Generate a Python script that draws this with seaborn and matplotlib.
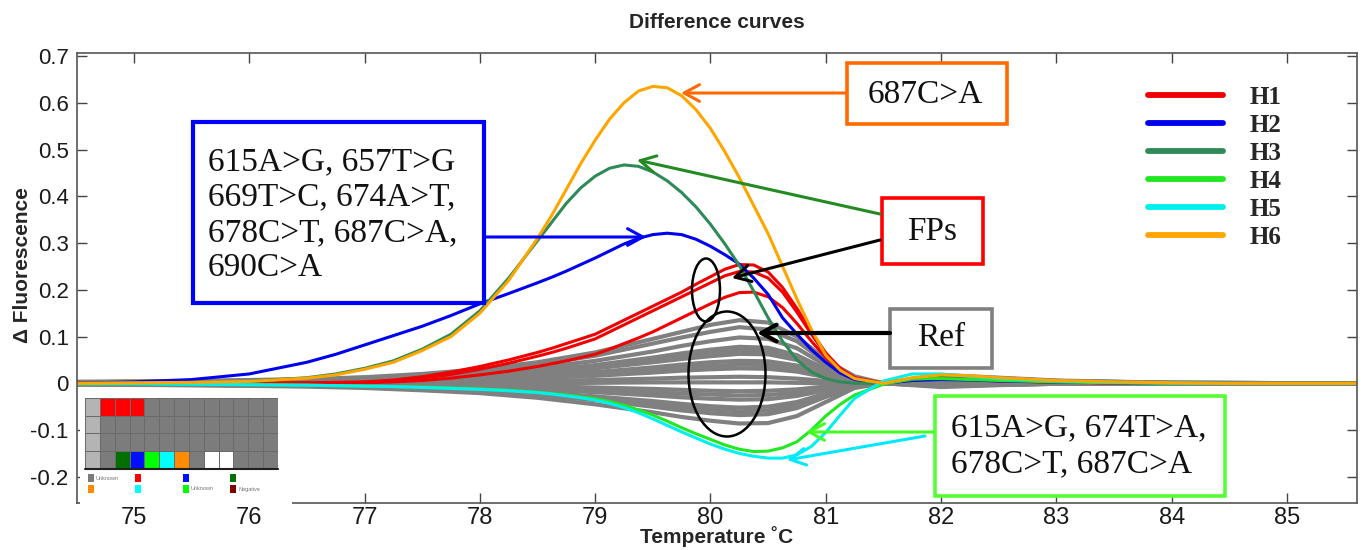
import numpy as np
import pandas as pd
import matplotlib
matplotlib.use("Agg")
import matplotlib.pyplot as plt
import seaborn as sns
from matplotlib.patches import Rectangle, Ellipse, FancyArrowPatch
from matplotlib.colors import ListedColormap
from matplotlib.lines import Line2D

nan = np.nan

# temperatures (deg C) at which the coloured curves were read
TEMP = [74.5, 75.0, 75.5, 76.0, 76.5, 76.75, 77.0, 77.25, 77.5, 77.75, 78.0, 78.25,
        78.5, 78.625, 78.75, 78.875, 79.0, 79.125, 79.25, 79.375, 79.5, 79.625, 79.75, 79.875,
        80.0, 80.125, 80.25, 80.375, 80.5, 80.625, 80.75, 80.875, 81.0, 81.125, 81.25,
        81.5, 81.75, 82.0, 82.25, 82.5, 83.0, 83.5, 84.0, 84.5, 85.0, 85.6]

H1_A = [0.0, 0.0, 0.0, 0.0, 0.001, 0.002, 0.003, 0.007, 0.014, 0.024, 0.036, 0.05,
        0.066, 0.075, 0.085, 0.095, 0.105, 0.12, 0.135, 0.15, 0.165, 0.18, 0.195, 0.212,
        0.228, 0.244, 0.254, 0.253, 0.238, 0.205, 0.16, 0.11, 0.065, 0.032, 0.012,
        0.0, 0.01, 0.012, 0.01, 0.007, 0.003, 0.001, 0.0, 0.0, 0.0, 0.0]
H1_B = [0.0, 0.0, 0.0, 0.0, 0.001, 0.001, 0.002, 0.005, 0.011, 0.019, 0.03, 0.043,
        0.058, 0.066, 0.075, 0.085, 0.095, 0.11, 0.125, 0.14, 0.155, 0.17, 0.185, 0.2,
        0.215, 0.23, 0.239, 0.238, 0.225, 0.195, 0.152, 0.105, 0.062, 0.03, 0.011,
        0.0, 0.009, 0.011, 0.009, 0.006, 0.003, 0.001, 0.0, 0.0, 0.0, 0.0]
H1_C = [0.0, 0.0, 0.0, 0.0, 0.0, 0.001, 0.001, 0.003, 0.006, 0.011, 0.018, 0.026,
        0.036, 0.042, 0.048, 0.055, 0.062, 0.073, 0.085, 0.097, 0.11, 0.125, 0.14, 0.155,
        0.17, 0.184, 0.194, 0.195, 0.185, 0.162, 0.128, 0.09, 0.055, 0.027, 0.01,
        0.0, 0.008, 0.01, 0.008, 0.005, 0.002, 0.001, 0.0, 0.0, 0.0, 0.0]
H2 = [0.0, 0.003, 0.008, 0.02, 0.045, 0.062, 0.082, 0.102, 0.122, 0.145, 0.17, 0.192,
      0.215, 0.227, 0.24, 0.254, 0.268, 0.283, 0.298, 0.31, 0.318, 0.321, 0.318, 0.308,
      0.293, 0.275, 0.255, 0.225, 0.19, 0.14, 0.105, 0.072, 0.045, 0.022, 0.008,
      0.0, 0.006, 0.008, 0.007, 0.005, 0.003, 0.001, 0.0, 0.0, nan, nan]
H3 = [0.0, 0.001, 0.002, 0.004, 0.012, 0.02, 0.032, 0.048, 0.073, 0.105, 0.155, 0.225,
      0.305, 0.345, 0.385, 0.418, 0.443, 0.46, 0.467, 0.464, 0.452, 0.433, 0.408, 0.377,
      0.34, 0.298, 0.252, 0.197, 0.14, 0.09, 0.05, 0.024, 0.01, 0.003, 0.0,
      0.0, 0.008, 0.012, 0.01, 0.008, 0.004, 0.002, 0.0, 0.0, 0.0, 0.0]
H4 = [-0.001, -0.001, -0.002, -0.003, -0.004, -0.005, -0.006, -0.007, -0.008, -0.01, -0.012, -0.015,
      -0.019, -0.022, -0.025, -0.029, -0.033, -0.039, -0.047, -0.057, -0.068, -0.081, -0.095, -0.108,
      -0.12, -0.132, -0.141, -0.146, -0.145, -0.138, -0.125, -0.1, -0.07, -0.045, -0.025,
      -0.002, 0.01, 0.01, 0.008, 0.006, 0.003, 0.001, 0.0, 0.0, 0.0, 0.0]
H5 = [-0.001, -0.001, -0.002, -0.003, -0.004, -0.005, -0.006, -0.007, -0.009, -0.011, -0.013, -0.016,
      -0.02, -0.023, -0.027, -0.031, -0.036, -0.043, -0.052, -0.063, -0.076, -0.09, -0.104, -0.117,
      -0.13, -0.141, -0.15, -0.156, -0.16, -0.16, -0.153, -0.135, -0.105, -0.068, -0.032,
      0.005, 0.02, 0.02, 0.015, 0.01, 0.005, 0.002, 0.001, 0.0, 0.0, 0.0]
H6 = [0.0, 0.001, 0.002, 0.004, 0.011, 0.018, 0.03, 0.045, 0.07, 0.10, 0.15, 0.22,
      0.31, 0.36, 0.415, 0.47, 0.52, 0.565, 0.60, 0.625, 0.635, 0.632, 0.615, 0.585,
      0.545, 0.495, 0.44, 0.38, 0.32, 0.25, 0.18, 0.115, 0.06, 0.028, 0.01,
      0.0, 0.012, 0.018, 0.016, 0.012, 0.006, 0.003, 0.001, 0.0, 0.0, 0.0]

# reference (wild type) curves, grey
REF_TEMP = [74.5, 75.5, 76.5, 77.0, 77.5, 78.0, 78.5, 79.0, 79.5, 79.75, 80.0, 80.25,
            80.5, 80.75, 81.0, 81.25, 81.5, 82.0, 82.5, 83.0, 84.0, 85.6]
REF = [
    [0.003, 0.005, 0.009, 0.013, 0.02, 0.03, 0.045, 0.066, 0.095, 0.11, 0.125, 0.135, 0.13, 0.10, 0.05, 0.015, 0.0, 0.018, 0.012, 0.006, 0.001, 0.0],
    [0.003, 0.004, 0.008, 0.012, 0.018, 0.027, 0.04, 0.059, 0.085, 0.098, 0.11, 0.12, 0.115, 0.09, 0.045, 0.012, 0.0, 0.016, 0.011, 0.005, 0.001, 0.0],
    [0.002, 0.004, 0.007, 0.01, 0.015, 0.022, 0.033, 0.048, 0.068, 0.08, 0.09, 0.098, 0.095, 0.075, 0.038, 0.01, 0.0, 0.014, 0.01, 0.005, 0.001, 0.0],
    [0.002, 0.003, 0.006, 0.008, 0.012, 0.018, 0.027, 0.039, 0.055, 0.064, 0.072, 0.078, 0.076, 0.06, 0.03, 0.008, 0.0, 0.012, 0.008, 0.004, 0.001, 0.0],
    [0.002, 0.003, 0.005, 0.007, 0.011, 0.016, 0.024, 0.035, 0.05, 0.058, 0.065, 0.07, 0.069, 0.055, 0.028, 0.007, 0.0, 0.011, 0.008, 0.004, 0.001, 0.0],
    [0.002, 0.003, 0.005, 0.007, 0.01, 0.015, 0.022, 0.032, 0.045, 0.052, 0.058, 0.063, 0.062, 0.05, 0.025, 0.006, 0.0, 0.011, 0.007, 0.004, 0.001, 0.0],
    [0.001, 0.002, 0.004, 0.005, 0.008, 0.011, 0.016, 0.024, 0.034, 0.04, 0.045, 0.048, 0.047, 0.038, 0.02, 0.005, 0.0, 0.01, 0.006, 0.003, 0.0, 0.0],
    [0.001, 0.002, 0.003, 0.004, 0.006, 0.009, 0.014, 0.02, 0.028, 0.033, 0.037, 0.04, 0.039, 0.031, 0.016, 0.004, 0.0, 0.009, 0.006, 0.003, 0.0, 0.0],
    [0.001, 0.002, 0.003, 0.004, 0.005, 0.007, 0.011, 0.016, 0.023, 0.027, 0.03, 0.032, 0.031, 0.025, 0.013, 0.003, 0.0, 0.008, 0.005, 0.003, 0.0, 0.0],
    [0.0, 0.001, 0.001, 0.002, 0.002, 0.003, 0.005, 0.007, 0.01, 0.012, 0.013, 0.014, 0.013, 0.01, 0.005, 0.001, 0.0, 0.006, 0.004, 0.002, 0.0, 0.0],
    [0.0, 0.0, 0.0, 0.0, 0.0, 0.0, 0.0, 0.001, 0.002, 0.002, 0.002, 0.002, 0.002, 0.001, 0.0, 0.0, 0.0, 0.004, 0.002, 0.001, 0.0, 0.0],
    [-0.001, -0.001, -0.002, -0.002, -0.003, -0.004, -0.006, -0.009, -0.012, -0.014, -0.016, -0.017, -0.016, -0.013, -0.007, -0.002, 0.0, -0.002, -0.001, 0.0, 0.0, 0.0],
    [-0.001, -0.002, -0.002, -0.003, -0.004, -0.006, -0.009, -0.014, -0.019, -0.022, -0.024, -0.026, -0.025, -0.02, -0.011, -0.003, 0.0, -0.003, -0.002, 0.0, 0.0, 0.0],
    [-0.001, -0.002, -0.003, -0.004, -0.006, -0.009, -0.013, -0.019, -0.026, -0.03, -0.033, -0.035, -0.034, -0.027, -0.015, -0.004, 0.0, -0.004, -0.002, -0.001, 0.0, 0.0],
    [-0.002, -0.003, -0.005, -0.006, -0.009, -0.013, -0.019, -0.028, -0.038, -0.044, -0.049, -0.052, -0.05, -0.04, -0.022, -0.006, 0.0, -0.005, -0.003, -0.001, 0.0, 0.0],
    [-0.002, -0.003, -0.005, -0.007, -0.01, -0.015, -0.022, -0.032, -0.044, -0.051, -0.056, -0.06, -0.058, -0.047, -0.026, -0.007, 0.0, -0.006, -0.003, -0.001, 0.0, 0.0],
    [-0.002, -0.004, -0.006, -0.008, -0.012, -0.017, -0.025, -0.036, -0.05, -0.058, -0.064, -0.068, -0.066, -0.053, -0.029, -0.008, 0.0, -0.006, -0.003, -0.001, 0.0, 0.0],
    [-0.003, -0.004, -0.007, -0.01, -0.015, -0.021, -0.031, -0.045, -0.062, -0.072, -0.08, -0.086, -0.085, -0.07, -0.04, -0.01, 0.0, -0.008, -0.004, -0.001, 0.0, 0.0],
]

GROUPS = ["H1", "H2", "H3", "H4", "H5", "H6"]
COLORS = {"H1": "#f00000", "H2": "#0000f0", "H3": "#2e8b57", "H4": "#22e822",
          "H5": "#00f0f0", "H6": "#ffa500"}
CURVES = [("H1", H1_A), ("H1", H1_B), ("H1", H1_C), ("H2", H2), ("H3", H3),
          ("H4", H4), ("H5", H5), ("H6", H6)]

XTICKS = [75, 76, 77, 78, 79, 80, 81, 82, 83, 84, 85]
YTICKS = [-0.2, -0.1, 0, 0.1, 0.2, 0.3, 0.4, 0.5, 0.6, 0.7]
YTICK_LABELS = ["-0.2", "-0.1", "0", "0.1", "0.2", "0.3", "0.4", "0.5", "0.6", "0.7"]

# well map of the small inset (0 light, 1 grey, 2 red, 3 dark green, 4 blue, 5 lime, 6 cyan, 7 orange, 8 white)
PLATE = [[0, 2, 2, 2, 1, 1, 1, 1, 1, 1, 1, 1, 1],
         [0, 1, 1, 1, 1, 1, 1, 1, 1, 1, 1, 1, 1],
         [0, 1, 1, 1, 1, 1, 1, 1, 1, 1, 1, 1, 1],
         [0, 1, 3, 4, 5, 6, 7, 1, 8, 8, 1, 1, 1]]
PLATE_COLORS = ["#b4b4b4", "#7c7c7c", "#ff0000", "#007000", "#0010ff", "#00ff00",
                "#00ffff", "#ff8c00", "#ffffff"]

# long-form tables for seaborn
col_rows = []
for i, (grp, vals) in enumerate(CURVES):
    for t, v in zip(TEMP, vals):
        col_rows.append({"curve": i, "group": grp, "temp": t, "value": v})
col_df = pd.DataFrame(col_rows)
ref_rows = []
for i, vals in enumerate(REF):
    for t, v in zip(REF_TEMP, vals):
        ref_rows.append({"curve": i, "temp": t, "value": v})
ref_df = pd.DataFrame(ref_rows)

sns.set_theme(style="ticks")
plt.rcParams["font.family"] = ["Liberation Sans Narrow", "Liberation Sans", "DejaVu Sans"]
SERIF = ["Liberation Serif", "DejaVu Serif"]

W, H = 1364, 550


def fx(x):
    return x / W


def fy(y):
    return 1 - y / H


fig = plt.figure(figsize=(W / 100, H / 100), dpi=100)
ax = fig.add_axes([fx(77), fy(503), (1357 - 77) / W, (503 - 53) / H])

sns.lineplot(data=ref_df, x="temp", y="value", units="curve", estimator=None,
             color="#808080", linewidth=3.0, sort=False, legend=False, ax=ax)
sns.lineplot(data=col_df, x="temp", y="value", hue="group", hue_order=GROUPS,
             units="curve", estimator=None, palette=COLORS, linewidth=2.2,
             sort=False, legend=False, ax=ax)

ax.set_xlim(74.506, 85.607)
ax.set_ylim(-0.256, 0.7064)
ax.set_xticks(XTICKS)
ax.set_yticks(YTICKS)
ax.set_yticklabels(YTICK_LABELS)
ax.set_xlabel("")
ax.set_ylabel("")
ax.tick_params(direction="in", length=7, width=1, top=True, right=True,
               color="#444444", labelcolor="#1a1a1a", labelsize=17)
ax.tick_params(axis="x", pad=3)
ax.tick_params(axis="y", pad=6, labelsize=16)
for s in ax.spines.values():
    s.set_color("#555555")
    s.set_linewidth(1.2)

fig.text(fx(717), fy(22), "Difference curves", ha="center", va="center",
         fontsize=15, fontweight="bold")
fig.text(fx(717), fy(537), "Temperature \u02daC", ha="center", va="center",
         fontsize=15, fontweight="bold")
fig.text(fx(23), fy(265), "\u0394 Fluorescence", ha="center", va="center",
         rotation=90, fontsize=15, fontweight="bold")

# legend
handles = [Line2D([], [], color=COLORS[g], lw=4.2) for g in GROUPS]
ax.legend(handles, GROUPS, loc="upper left", bbox_to_anchor=(fx(1135), fy(73)),
          bbox_transform=fig.transFigure, frameon=False, borderpad=0,
          handlelength=3.0, handletextpad=1.1, labelspacing=0.2,
          prop={"family": SERIF, "weight": "bold", "size": 18})

# inset well map
fig.add_artist(Rectangle((fx(80), fy(506)), 212 / W, 116 / H, transform=fig.transFigure,
                         facecolor="white", edgecolor="none", zorder=2))
iax = fig.add_axes([fx(85), fy(468), 193 / W, 70 / H])
iax.set_zorder(3)
sns.heatmap(PLATE, cmap=ListedColormap(PLATE_COLORS), vmin=-0.5,
            vmax=len(PLATE_COLORS) - 0.5, cbar=False, linewidths=0.6,
            linecolor="#6a6a6a", xticklabels=False, yticklabels=False, ax=iax)
fig.add_artist(Line2D([fx(85), fx(278)], [fy(469), fy(469)], transform=fig.transFigure,
                      color="#202020", lw=1.5, zorder=4))
key_colors = [["#7c7c7c", "#ff0000", "#0010ff", "#007000"],
              ["#ff8c00", "#00ffff", "#00ff00", "#800000"]]
key_x = [88, 135, 183, 230]
for r, yy in enumerate([478, 489]):
    for c, xx in enumerate(key_x):
        fig.add_artist(Rectangle((fx(xx), fy(yy + 4)), 6 / W, 8 / H, transform=fig.transFigure,
                                 facecolor=key_colors[r][c], edgecolor="none", zorder=4))
fig.text(fx(96), fy(478), "Unknown", fontsize=4, color="#777777", va="center", zorder=4)
fig.text(fx(191), fy(489), "Unknown", fontsize=4, color="#777777", va="center", zorder=4)
fig.text(fx(238), fy(489), "Negative", fontsize=4, color="#777777", va="center", zorder=4)


def box(x0, y0, x1, y1, color, lw):
    fig.add_artist(Rectangle((fx(x0), fy(y1)), (x1 - x0) / W, (y1 - y0) / H,
                             transform=fig.transFigure, facecolor="white",
                             edgecolor=color, lw=lw, zorder=5))


def arrow(x0, y0, x1, y1, color, lw=2.2):
    fig.add_artist(FancyArrowPatch((fx(x0), fy(y0)), (fx(x1), fy(y1)),
                                   transform=fig.transFigure, color=color, lw=lw,
                                   arrowstyle="->,head_length=0.55,head_width=0.3",
                                   mutation_scale=20, shrinkA=0, shrinkB=0, zorder=6))


def label(x, y, s, ha="center"):
    fig.text(fx(x), fy(y), s, ha=ha, va="center", fontsize=24, family=SERIF,
             color="#111111", linespacing=1.2, zorder=7)


box(193, 122, 484, 303, "#0000ff", 3.0)
label(208, 215, "615A>G, 657T>G\n669T>C, 674A>T,\n678C>T, 687C>A,\n690C>A", ha="left")
box(847, 63, 1007, 124, "#ff6a00", 2.6)
label(925, 95, "687C>A")
box(882, 198, 983, 264, "#ff0000", 2.6)
label(932, 232, "FPs")
box(890, 309, 992, 368, "#808080", 2.6)
label(941, 338, "Ref")
box(935, 396, 1225, 496, "#55ff33", 2.6)
label(951, 446, "615A>G, 674T>A,\n678C>T, 687C>A", ha="left")

arrow(847, 93, 681, 93, "#ff6a00")
arrow(484, 237, 646, 237, "#0000ff")
arrow(880, 214, 637, 160, "#228b22")
arrow(880, 240, 732, 278, "black")
arrow(890, 333, 757, 333, "black", lw=3.0)
arrow(933, 432, 806, 432, "#44ff22")
arrow(925, 436, 787, 460, "#00e8ff")

for cx, cy, w, h in [(706, 290, 28, 63), (727, 374, 77, 125)]:
    fig.add_artist(Ellipse((fx(cx), fy(cy)), w / W, h / H, transform=fig.transFigure,
                           fill=False, edgecolor="black", lw=1.8, zorder=6))

fig.savefig("out.png", dpi=100)
